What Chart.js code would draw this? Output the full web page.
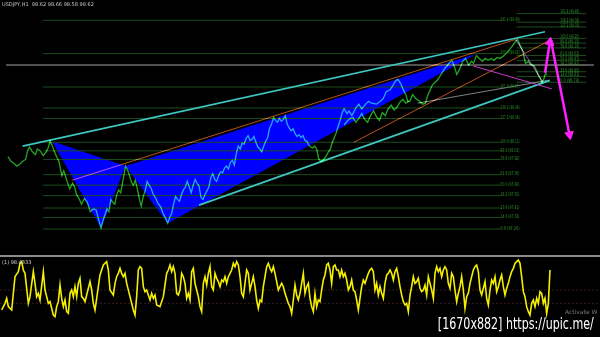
<!DOCTYPE html>
<html>
<head>
<meta charset="utf-8">
<script src="https://cdn.jsdelivr.net/npm/chart.js@4.4.0/dist/chart.umd.min.js"></script>
<style>
    body { margin: 0; background: #000; width: 600px; height: 337px; overflow: hidden; position: relative; font-family: "DejaVu Sans", sans-serif; }
    #mainChart { position: absolute; left: 0; top: 0; }
    #sep { position: absolute; left: 0; top: 255px; width: 600px; height: 2px; background: #8c8c8c; }
    #oscChart { position: absolute; left: 0; top: 257px; }
    .tiny { position: absolute; font-size: 5px; line-height: 6px; white-space: nowrap; }
    #symbol { left: 2px; top: 1px; color: #c8c8c8; }
    #oscLabel { left: 2px; top: 259px; color: #d0d0d0; }
    #activate { left: 565px; top: 309px; color: #7a7a7a; font-size: 6px; }
    #stamp { position: absolute; right: 6px; top: 315px; color: #fff; font-family: "DejaVu Sans Condensed", "DejaVu Sans", sans-serif; font-size: 15px; line-height: 18px; white-space: nowrap; text-shadow: 0 0 2px #000; transform-origin: right top; }
</style>
</head>
<body>
<canvas id="mainChart" width="600" height="255"></canvas>
<div id="sep"></div>
<canvas id="oscChart" width="600" height="80"></canvas>
<div class="tiny" id="symbol">USDJPY,H1&nbsp; 98.62 98.66 98.58 98.62</div>
<div class="tiny" id="oscLabel">(1) 98.4333</div>
<div class="tiny" id="activate">Activate W</div>
<div id="stamp">[1670x882] https://upic.me/</div>
<script>
// price path: [bar, level] (level counted down from the top of the price panel)
const closePath = [
    [2,158],[5,163],[8,165],[11,168],[14,166],[17,163],[20,161],[22,152],[24,148],[27,153],[30,156],[32,150],[35,152],[38,157],[41,153],[43,149],[45,142],[47,146],[49,152],[52,159],
    [54,163],[57,178],[59,173],[62,183],[65,192],[68,186],[70,190],[72,198],[75,203],[77,208],[80,202],[83,206],[86,216],[89,213],[92,214],[94,222],[97,233],
    [99,225],[101,219],[103,213],[105,216],[107,203],[109,206],[111,208],[113,198],[115,193],[117,196],[119,185],[121,174],[122,168],
    [124,172],[126,178],[128,185],[130,188],[132,183],[134,192],[136,202],[138,210],[140,200],[142,194],[144,184],[146,188],[148,191],[150,197],[153,202],[155,207],[158,211],[160,217],[162,221],[165,228],
    [167,222],[169,218],[171,208],[173,200],[175,203],[177,205],[179,198],[181,193],[183,190],[185,184],[187,190],[189,196],[191,188],[193,182],[195,186],[197,189],[199,201],[201,203],[203,198],[205,194],
    [207,190],[209,180],[211,176],[213,182],[215,184],[217,178],[219,174],[221,175],[223,170],[225,168],[227,171],[229,164],[231,162],[233,167],[235,155],[237,147],[239,150],[241,144],[243,145],[245,139],
    [247,136],[249,141],[251,140],[253,137],[255,143],[257,148],[259,150],[261,153],[263,147],[265,142],[267,138],[269,128],[271,124],[273,117],[275,120],[277,122],[279,118],[281,121],[283,119],[285,115],
    [287,124],[289,128],[291,131],[293,129],[295,134],[297,137],[299,135],[301,138],[303,136],[305,141],[307,142],[309,146],[311,148],[313,149],[315,147],[317,150],[319,160],[321,163],[323,162],[325,160],
    [327,157],[329,153],[331,150],[333,143],[335,138],[337,133],[339,126],[341,120],[343,112],
    [345,108],[348,113],[350,110],[353,115],[357,107],[360,103],[363,108],[367,103],[370,100],[373,102],[378,103],[382,100],[385,97],[388,90],[392,88],[395,83],[398,78],[400,77],[403,82],[405,87],
    [408,93],[410,100],[412,100],[415,93],[418,97],[422,100],[425,103],[428,102],[430,95],[432,90],[435,83],[438,80],[440,78],[442,75],[445,70],[448,65],[450,63],[452,60],[455,57],[458,65],[460,72],
    [463,66],[466,58],[469,55],[472,62],[475,58],[477,60],[480,52],[483,55],[486,58],[489,55],[492,57],[495,55],[498,57],[501,54],[504,55],[507,53],[510,50],[513,47],[516,43],[518,40],[520,37],[522,35],
    [524,40],[525,42],[527,47],[528,50],[530,60],[532,59],[533,58],[535,61],[537,62],[539,63],[541,67],[543,72],[545,76],[547,80],[549,76],[550,72],[551,66],[552,62]
];

// second green trace under the wedge
const lowerTrace = [
    [345,125],[348,121],[351,118],[354,117],[357,122],[360,118],[363,113],[366,119],[369,122],[372,115],[375,110],[378,116],[381,120],[384,112],[387,115],[390,108],[393,104],[396,109],[399,106],[402,101],[405,98],[408,102],[411,100]
];

// harmonic pattern points X A B C D
const patternBars = [47, 97, 122, 165, 480];
const patternLevels = [142, 233, 168, 228, 50];

// fibonacci sets
const leftFibLevels = [15, 50, 85, 107, 118, 143, 152, 161, 177, 188, 199, 212, 222, 234];
const leftFibText = ["241.4 (99.40)", "200.0 (99.02)", "161.8 (98.67)", "138.2 (98.46)", "127.2 (98.36)", "100.0 (98.11)", "88.6 (98.01)",
    "78.6 (97.92)", "61.8 (97.76)", "50.0 (97.66)", "38.2 (97.55)", "23.6 (97.41)", "14.6 (97.33)", "0.0 (97.20)"];
const rightFibLevels = [8, 17, 22, 34, 39, 44, 52, 57, 62, 69, 74, 80];
const rightFibText = ["161.8 (99.48)", "138.2 (99.38)", "127.2 (99.33)", "100.0 (99.20)", "88.6 (99.15)", "78.6 (99.10)",
    "61.8 (99.02)", "50.0 (98.97)", "38.2 (98.92)", "23.6 (98.85)", "14.6 (98.81)", "0.0 (98.74)"];

// trend lines [bar, level]
const lastPriceLine = [[0,62],[600,62]];
const upperChannel = [[17,147],[550,27]];
const lowerChannel = [[197,209],[555,78]];
const thinGreyLine = [[420,102],[553,78]];
const orangeLineB = [[67,183],[520,35]];
const orangeLineC = [[355,143],[557,35]];
const purpleLeg = [[520,35],[548,80]];
const magentaLine = [[477,63],[557,87]];
const arrowUp = [[550,70],[555,38]];
const arrowDown = [[556,36],[575,135]];

// oscillator: [tick, value]
const oscPath = [
    [5,20],[15,30],[20,37.5],[25,25],[35,20],[45,70],[55,77.5],[60,90],[65,92.5],[70,80],[75,75],[85,30],[90,40],[100,77.5],[105,60],[110,40],[115,45],[120,35],[130,77.5],[135,50],
    [140,40],[145,30],[150,32.5],[160,12.5],[165,10],[170,25],[175,32.5],[180,57.5],[185,37.5],[190,25],[195,35],[200,17.5],[205,15],[210,45],[215,50],[220,40],[225,55],[230,40],[235,60],[240,67.5],
    [245,40],[250,37.5],[255,32.5],[260,42.5],[270,62.5],[275,50],[280,30],[285,20],[290,37.5],[300,72.5],[310,87.5],[320,92.5],[325,80],[330,50],[340,42.5],[345,60],[350,70],[355,75],[360,82.5],[365,75],
    [370,70],[375,75],[380,60],[390,40],[400,20],[405,12.5],[410,40],[415,80],[420,85],[425,82.5],[430,55],[435,47.5],[440,50],[445,42.5],[450,35],[455,45],[460,37.5],[465,42.5],[470,27.5],[480,25],
    [490,40],[500,75],[505,80],[510,87.5],[515,77.5],[520,85],[525,75],[530,45],[535,42.5],[540,50],[545,75],[550,70],[555,60],[560,37.5],[565,45],[570,35],[575,77.5],[580,82.5],[585,60],[590,50],
    [595,40],[600,25],[605,17.5],[610,60],[615,70],[620,57.5],[625,75],[630,85],[635,55],[640,50],[645,75],[650,67.5],[655,62.5],[660,55],[665,65],[670,62.5],[675,70],[680,60],[685,70],[690,75],
    [695,80],[700,90],[705,85],[710,92.5],[715,87.5],[720,70],[725,45],[730,40],[735,60],[740,80],[745,75],[750,50],[755,60],[760,70],[765,55],[770,35],[775,22.5],[780,35],[785,32.5],[790,55],
    [795,70],[800,85],[805,90],[810,82.5],[815,77.5],[820,85],[825,75],[830,62.5],[835,50],[840,55],[845,60],[850,55],[855,45],[860,37.5],[865,30],[870,25],[875,15],[880,35],[885,57.5],[890,42.5],
    [895,35],[900,45],[905,60],[910,75],[915,45],[920,55],[925,60],[930,37.5],[935,25],[940,17.5],[945,45],[950,25],[955,35],[960,32.5],[965,50],[970,65],[975,72.5],[980,87.5],[985,90],[990,80],
    [995,60],[1000,85],[1005,87.5],[1010,80],[1015,80],[1020,70],[1025,80],[1030,70],[1035,75],[1040,65],[1045,50],[1050,55],[1055,65],[1060,50],[1065,47.5],[1070,35],[1075,20],[1080,37.5],[1085,55],[1090,65],
    [1095,60],[1100,67.5],[1105,75],[1110,80],[1115,82.5],[1120,77.5],[1125,50],[1130,60],[1135,42.5],[1140,55],[1145,45],[1150,37.5],[1155,60],[1160,72.5],[1165,75],[1170,80],[1175,75],[1180,65],[1185,77.5],[1190,82.5],
    [1195,70],[1200,55],[1205,42.5],[1210,32.5],[1215,27.5],[1220,30],[1225,17.5],[1230,42.5],[1235,55],[1240,70],[1245,60],[1250,62.5],[1255,67.5],[1260,52.5],[1265,47.5],[1270,50],[1275,57.5],[1280,42.5],[1285,70],[1290,60],
    [1295,50],[1300,37.5],[1305,75],[1310,85],[1315,77.5],[1320,82.5],[1325,70],[1330,80],[1335,85],[1340,80],[1345,60],[1350,52.5],[1355,75],[1360,70],[1365,50],[1370,32.5],[1375,45],[1380,55],[1385,70],[1390,50],
    [1395,22.5],[1400,40],[1405,45],[1410,60],[1415,70],[1420,80],[1425,85],[1430,87.5],[1435,77.5],[1440,50],[1445,42.5],[1450,52.5],[1455,62.5],[1460,37.5],[1465,27.5],[1470,50],[1475,65],[1480,60],[1485,70],[1490,47.5],
    [1495,55],[1500,65],[1505,72.5],[1510,55],[1515,42.5],[1520,52.5],[1525,60],[1530,70],[1535,77.5],[1540,82.5],[1545,90],[1550,92.5],[1555,95],[1560,90],[1565,70],[1570,47.5],[1575,40],[1580,25],[1585,17.5],[1590,12.5],
    [1595,30],[1600,35],[1605,25],[1610,37.5],[1615,30],[1620,47.5],[1625,45],[1630,30],[1635,37.5],[1640,15],[1645,30],[1650,80]
];
const oscLevels = [50, 30];

function pts(pairs) {
    return pairs.map(p => ({ x: p[0], y: p[1] }));
}

function line(pairs, color, width, order, extra) {
    return Object.assign({
        data: pts(pairs),
        borderColor: color,
        borderWidth: width,
        pointRadius: 0,
        fill: false,
        order: order
    }, extra || {});
}

function arrowRotation(pairs) {
    return (c) => {
        if (c.dataIndex !== pairs.length - 1) return 0;
        const sx = c.chart.scales.x;
        const sy = c.chart.scales.y;
        const a = pairs[pairs.length - 2];
        const b = pairs[pairs.length - 1];
        const dx = sx.getPixelForValue(b[0]) - sx.getPixelForValue(a[0]);
        const dy = sy.getPixelForValue(b[1]) - sy.getPixelForValue(a[1]);
        return Math.atan2(dx, -dy) * 180 / Math.PI;
    };
}

const patternPt = (i) => [patternBars[i], patternLevels[i]];
const triangleXAB = [patternPt(0), patternPt(1), patternPt(2), patternPt(0)];
const triangleBCD = [patternPt(2), patternPt(3), patternPt(4), patternPt(2)];

const datasets = [
    line(triangleXAB, "rgba(0,0,0,0)", 0, 30, { fill: "shape", backgroundColor: "#0000ff" }),
    line(triangleBCD, "rgba(0,0,0,0)", 0, 30, { fill: "shape", backgroundColor: "#0000ff" })
];

leftFibLevels.forEach(lv => datasets.push(line([[38, lv], [505, lv]], "#1d4d1d", 1, 25)));
rightFibLevels.forEach(lv => datasets.push(line([[521, lv], [592, lv]], "#1d4d1d", 1, 25)));

datasets.push(line(lastPriceLine, "#6c6c6c", 1.5, 24));
datasets.push(line(thinGreyLine, "#9aa4a4", 0.8, 20));
datasets.push(line(orangeLineB, "#b9501c", 1, 19, { blend: "lighter" }));
datasets.push(line(orangeLineC, "#b9501c", 1, 19, { blend: "lighter" }));
datasets.push(line(upperChannel, "#3ec6c0", 1.7, 18));
datasets.push(line(lowerChannel, "#3ec6c0", 1.7, 18));
datasets.push(line(purpleLeg, "#a040c8", 1, 17));
datasets.push(line(magentaLine, "#c838c8", 1, 17));
datasets.push(line(lowerTrace, "#23a523", 1.3, 10, { blend: "lighter" }));
datasets.push(line(closePath, "#23a523", 1.3, 9, { blend: "lighter" }));
[arrowUp, arrowDown].forEach(a => datasets.push(line(a, "#ff22ff", 2.5, 5, {
    pointStyle: "triangle",
    pointRadius: a.map((p, i) => (i === a.length - 1 ? 5 : 0)),
    pointBackgroundColor: "#ff22ff",
    pointBorderColor: "#ff22ff",
    pointBorderWidth: 1,
    pointRotation: arrowRotation(a)
})));

const blendPlugin = {
    id: "blend",
    beforeDatasetDraw(chart, args) {
        const ds = chart.data.datasets[args.index];
        if (ds.blend) {
            chart.ctx.save();
            chart.ctx.globalCompositeOperation = ds.blend;
        }
    },
    afterDatasetDraw(chart, args) {
        if (chart.data.datasets[args.index].blend) chart.ctx.restore();
    }
};

const fibLabelPlugin = {
    id: "fibLabels",
    afterDatasetsDraw(chart) {
        const ctx = chart.ctx;
        const sx = chart.scales.x;
        const sy = chart.scales.y;
        ctx.save();
        ctx.font = '5px "DejaVu Sans"';
        ctx.fillStyle = "#2f9a2f";
        ctx.textAlign = "right";
        ctx.textBaseline = "bottom";
        leftFibLevels.forEach((lv, i) => {
            ctx.fillText(leftFibText[i], sx.getPixelForValue(524), sy.getPixelForValue(lv) + 2, 19);
        });
        rightFibLevels.forEach((lv, i) => {
            ctx.fillText(rightFibText[i], sx.getPixelForValue(585), sy.getPixelForValue(lv) + 1, 19);
        });
        ctx.restore();
    }
};

const noAxes = (xmax, ymin, ymax, reverse) => ({
    x: { type: "linear", display: false, min: 0, max: xmax },
    y: { type: "linear", display: false, min: ymin, max: ymax, reverse: reverse }
});

new Chart(document.getElementById("mainChart"), {
    type: "line",
    data: { datasets: datasets },
    options: {
        responsive: false,
        animation: false,
        layout: { padding: 0 },
        plugins: { legend: { display: false }, tooltip: { enabled: false } },
        elements: { line: { tension: 0 } },
        scales: noAxes(600, 0, 255, true)
    },
    plugins: [blendPlugin, fibLabelPlugin]
});

const oscSets = oscLevels.map(lv => line([[0, lv], [1800, lv]], "#3a1c1c", 1, 5, { borderDash: [2, 2] }));
oscSets.push(line(oscPath, "#f4f000", 1.6, 1));

new Chart(document.getElementById("oscChart"), {
    type: "line",
    data: { datasets: oscSets },
    options: {
        responsive: false,
        animation: false,
        layout: { padding: 0 },
        plugins: { legend: { display: false }, tooltip: { enabled: false } },
        elements: { line: { tension: 0 } },
        scales: noAxes(1800, -20.5, 99.5, false)
    }
});

// squeeze the stamp into the width it has on the picture
const stamp = document.getElementById("stamp");
const w = stamp.getBoundingClientRect().width;
stamp.style.transform = "scaleX(" + (156 / w) + ")";
</script>
</body>
</html>
